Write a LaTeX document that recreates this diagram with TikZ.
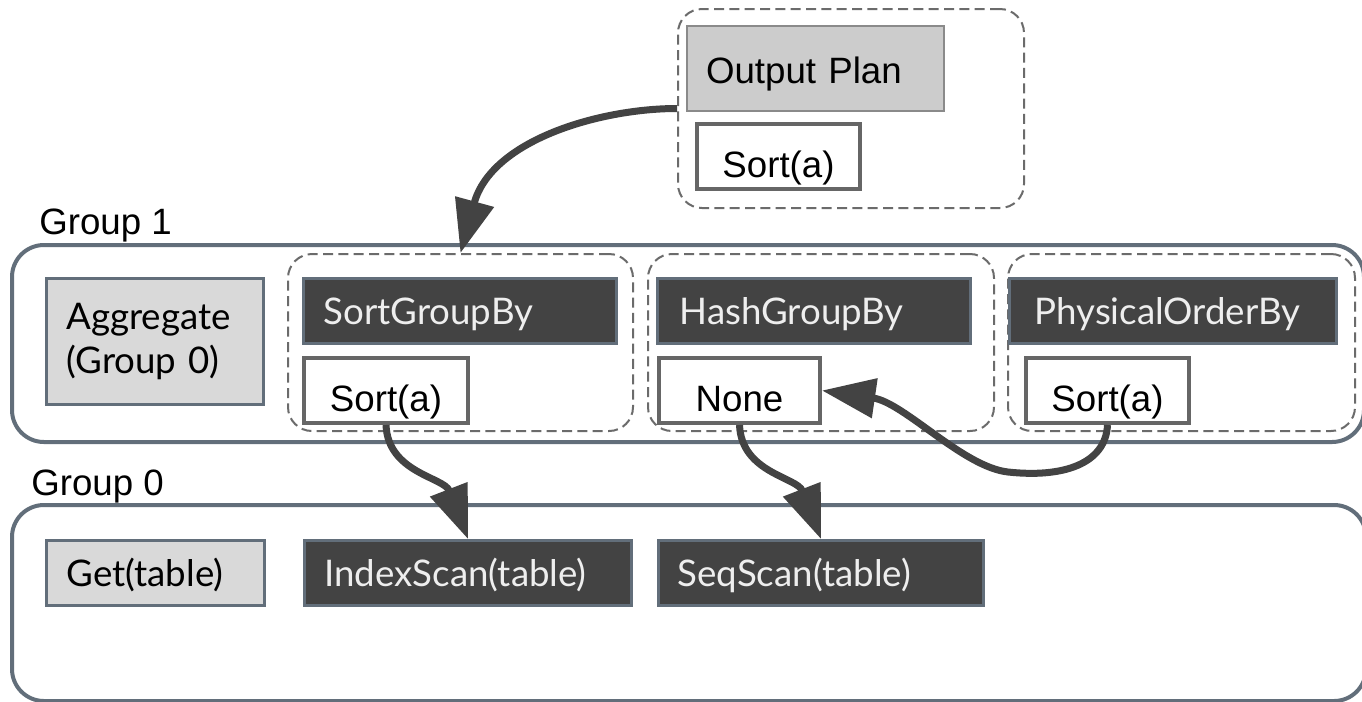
\documentclass[tikz,border=0pt]{standalone}
\usepackage{fontspec}
\setmainfont{Liberation Sans}
\newfontfamily\latofont{Lato}
\usetikzlibrary{arrows.meta}
\definecolor{slate}{HTML}{626E7A}
\definecolor{darkfill}{HTML}{434343}
\definecolor{lighttext}{HTML}{EEEEEE}
\definecolor{boxline}{HTML}{666666}
\definecolor{dashline}{HTML}{6B6B6B}
\definecolor{aggfill}{HTML}{D9D9D9}
\definecolor{planfill}{HTML}{CCCCCC}
\definecolor{planline}{HTML}{8A8A8A}
\definecolor{arrowcol}{HTML}{434343}
\newcommand\mkbox[8]{%
  \pgfmathsetmacro\mkw{(#5-#3)*0.75}%
  \pgfmathsetmacro\mkh{(#6-#4)*0.75}%
  \pgfmathsetmacro\mktw{(#5-#3-2*#7)*0.75}%
  \pgfmathsetmacro\mkpad{#7*0.75}%
  \node[#2, anchor=north west, inner xsep=\mkpad pt, inner ysep=0pt,
        minimum width=\mkw pt, minimum height=\mkh pt, text width=\mktw pt] (#1) at (#3,#4) {#8};}
\tikzset{
  bigtext/.style={font=\fontsize{27.5pt}{33pt}\selectfont},
  latotext/.style={font=\latofont\fontsize{27.5pt}{33pt}\selectfont},
  grpbox/.style={draw=slate, line width=3pt, rounded corners=24pt},
  dashbox/.style={draw=dashline, line width=1.5pt, dash pattern=on 7.5pt off 4pt, rounded corners=18pt},
  darkbox/.style={latotext, draw=slate, line width=2.25pt, fill=darkfill, text=lighttext, align=left, text height=20pt, text depth=0pt},
  lightbox/.style={latotext, draw=slate, line width=2.25pt, fill=aggfill, align=left},
  sortbox/.style={bigtext, draw=boxline, line width=3pt, fill=white, align=center, text height=32pt, text depth=0pt},
  planbox/.style={bigtext, draw=planline, line width=1.5pt, fill=planfill, align=left, text height=22pt, text depth=0pt},
  grplabel/.style={bigtext, anchor=base west, inner sep=0pt},
  conn/.style={draw=arrowcol, line width=5.25pt, -{Triangle[length=40pt,width=29pt]}}
}
\begin{document}
\begin{tikzpicture}[x=0.75pt, y=-0.75pt]
\fill[white] (0,0) rectangle (1362,701);
\useasboundingbox (0,0) rectangle (1362,701);
% containers
\mkbox{grp1}{grpbox}{10}{243}{1362}{440}{10}{}
\mkbox{grp0}{grpbox}{10}{503}{1364}{699}{10}{}
\mkbox{outgrp}{dashbox}{677}{8}{1023}{207}{10}{}
\mkbox{sgdash}{dashbox}{287}{253}{632}{430}{10}{}
\mkbox{hgdash}{dashbox}{647}{253}{993}{430}{10}{}
\mkbox{podash}{dashbox}{1007}{253}{1354}{430}{10}{}
% labels
\node[grplabel] (lab1) at (39,234) {Group 1};
\node[grplabel] (lab0) at (31,495) {Group 0};
% output
\mkbox{outplan}{planbox}{686}{25}{943}{110}{19}{Output Plan}
\mkbox{outsort}{sortbox}{695}{122}{858}{187}{5}{Sort(a)}
% group 1
\mkbox{agg}{lightbox}{45}{277}{262}{403}{20}{Aggregate\\(Group 0)}
\mkbox{sgb}{darkbox}{302}{277}{615}{342}{20}{SortGroupBy}
\mkbox{sgsort}{sortbox}{302}{356}{466}{421}{5}{Sort(a)}
\mkbox{hgb}{darkbox}{656}{277}{969}{342}{22}{HashGroupBy}
\mkbox{none}{sortbox}{657}{356}{818}{421}{5}{None}
\mkbox{pob}{darkbox}{1008}{277}{1335}{342}{25}{PhysicalOrderBy}
\mkbox{posort}{sortbox}{1024}{356}{1187}{421}{5}{Sort(a)}
% group 0
\mkbox{get}{lightbox, text height=20pt, text depth=0pt}{45}{539}{263}{604}{20}{Get(table)}
\mkbox{idx}{darkbox}{303}{539}{630}{604}{20}{IndexScan(table)}
\mkbox{seq}{darkbox}{657}{539}{982}{604}{19}{SeqScan(table)}
% connectors
\coordinate (loopc) at (1008,472);
\draw[conn] (outgrp.west) .. controls +(-77,0) and +(31,-113) .. (sgdash.north);
\draw[conn] (sgsort.south) .. controls +(2,48) and +(-24,-62) .. (idx.north);
\draw[conn] (none.south) .. controls +(2,48) and +(-24,-62) .. (seq.north);
\draw[conn] (posort.south) .. controls +(-2,39) and +(55,6) .. (loopc)
  .. controls +(-45,-5) and +(82,12) .. (none.east);
\end{tikzpicture}
\end{document}
